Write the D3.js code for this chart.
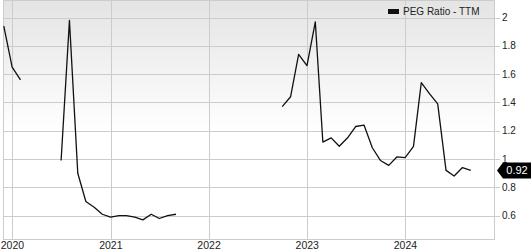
<!DOCTYPE html>
<html>
<head>
<meta charset="utf-8">
<script src="https://cdn.jsdelivr.net/npm/d3@7"></script>
<style>
  body { margin: 0; background: #fff; }
  svg { display: block; font-family: "Liberation Sans", Arial, sans-serif; }
</style>
</head>
<body>
<svg id="chart" width="531" height="250"></svg>
<script>
// month-end dates; null marks a gap in the series
const dates = [
    "2019-11-30", "2019-12-31", "2020-01-31", "2020-02-29",
    "2020-05-31", "2020-06-30", "2020-07-31", "2020-08-31", "2020-09-30", "2020-10-31",
    "2020-11-30", "2020-12-31", "2021-01-31", "2021-02-28", "2021-03-31", "2021-04-30",
    "2021-05-31", "2021-06-30", "2021-07-31", "2021-08-31", "2021-09-30",
    "2022-08-31", "2022-09-30", "2022-10-31", "2022-11-30", "2022-12-31",
    "2023-01-31", "2023-02-28", "2023-03-31", "2023-04-30", "2023-05-31", "2023-06-30",
    "2023-07-31", "2023-08-31", "2023-09-30", "2023-10-31", "2023-11-30", "2023-12-31",
    "2024-01-31", "2024-02-29", "2024-03-31", "2024-04-30", "2024-05-31", "2024-06-30",
    "2024-07-31", "2024-08-31"
];
const pegValues = [
    1.94, 1.65, 1.56, null,
    null, 0.99, 1.98, 0.90, 0.70, 0.66,
    0.61, 0.59, 0.60, 0.60, 0.59, 0.57,
    0.61, 0.58, 0.60, 0.61, null,
    null, 1.37, 1.44, 1.74, 1.66,
    1.97, 1.12, 1.15, 1.09, 1.15, 1.23,
    1.24, 1.08, 0.99, 0.955, 1.015, 1.01,
    1.09, 1.54, 1.46, 1.39, 0.92, 0.88,
    0.94, 0.92
];
const yTicks = [0.6, 0.8, 1, 1.2, 1.4, 1.6, 1.8, 2];
const yearTicks = ["2020-01-01", "2021-01-01", "2022-01-01", "2023-01-01", "2024-01-01"];
const seriesName = "PEG Ratio - TTM";
const lastValue = 0.92;

const parse = d3.timeParse("%Y-%m-%d");
const data = dates.map((d, i) => ({ date: parse(d), value: pegValues[i] }));

const PLOT = { left: 3, right: 495, top: 0, bottom: 240 };

const svg = d3.select("#chart");

const x = d3.scaleTime()
    .domain([parse("2019-11-27"), parse("2024-11-29")])
    .range([PLOT.left, PLOT.right]);

const y = d3.scaleLinear()
    .domain([0.428, 2.124])
    .range([PLOT.bottom, PLOT.top]);

const defs = svg.append("defs");
const grad = defs.append("linearGradient")
    .attr("id", "bg")
    .attr("x1", 0).attr("y1", 0).attr("x2", 0).attr("y2", 1);
grad.append("stop").attr("offset", "0%").attr("stop-color", "#e4e4e4");
grad.append("stop").attr("offset", "55%").attr("stop-color", "#ffffff");

defs.append("clipPath").attr("id", "plot-clip")
    .append("rect")
    .attr("x", PLOT.left).attr("y", PLOT.top)
    .attr("width", PLOT.right - PLOT.left)
    .attr("height", PLOT.bottom - PLOT.top);

svg.append("rect")
    .attr("x", PLOT.left).attr("y", PLOT.top)
    .attr("width", PLOT.right - PLOT.left)
    .attr("height", PLOT.bottom - PLOT.top)
    .attr("fill", "url(#bg)");

// grid
const grid = svg.append("g").attr("class", "grid")
    .attr("stroke", "#cccccc").attr("stroke-width", 1);

grid.selectAll(".h")
    .data(yTicks)
    .join("line")
    .attr("class", "h")
    .attr("x1", PLOT.left).attr("x2", PLOT.right + 5)
    .attr("y1", d => Math.round(y(d)) + 0.5)
    .attr("y2", d => Math.round(y(d)) + 0.5);

grid.selectAll(".v")
    .data(yearTicks.map(parse))
    .join("line")
    .attr("class", "v")
    .attr("x1", d => Math.round(x(d)) + 0.5)
    .attr("x2", d => Math.round(x(d)) + 0.5)
    .attr("y1", PLOT.top).attr("y2", PLOT.bottom);

svg.append("rect")
    .attr("x", PLOT.left + 0.5).attr("y", PLOT.top + 0.5)
    .attr("width", PLOT.right - PLOT.left - 1)
    .attr("height", PLOT.bottom - PLOT.top - 1)
    .attr("fill", "none")
    .attr("stroke", "#cccccc");

// line
const line = d3.line()
    .defined(d => d.value != null)
    .x(d => x(d.date))
    .y(d => y(d.value));

svg.append("path")
    .datum(data)
    .attr("clip-path", "url(#plot-clip)")
    .attr("fill", "none")
    .attr("stroke", "#111")
    .attr("stroke-width", 1.3)
    .attr("stroke-linejoin", "round")
    .attr("d", line);

// right axis labels
svg.append("g")
    .selectAll("text")
    .data(yTicks)
    .join("text")
    .attr("x", 502)
    .attr("y", d => y(d) + 3.5)
    .attr("font-size", 10)
    .attr("fill", "#222")
    .text(d => d3.format("~g")(d));

// bottom axis labels
svg.append("g")
    .selectAll("text")
    .data(yearTicks.map(parse))
    .join("text")
    .attr("x", d => x(d))
    .attr("y", 249)
    .attr("text-anchor", "middle")
    .attr("font-size", 10.5)
    .attr("fill", "#222")
    .text(d => d3.timeFormat("%Y")(d));

// legend
const legend = svg.append("g").attr("transform", "translate(388, 0)");
legend.append("rect")
    .attr("x", 0).attr("y", 9)
    .attr("width", 11).attr("height", 5)
    .attr("fill", "#111");
legend.append("text")
    .attr("x", 15).attr("y", 15)
    .attr("font-size", 10)
    .attr("fill", "#222")
    .text(seriesName);

// last value tag
const tagY = y(lastValue);
const tag = svg.append("g");
tag.append("path")
    .attr("d", `M${PLOT.right + 2},${tagY} L${PLOT.right + 8},${tagY - 8} L531,${tagY - 8} L531,${tagY + 8} L${PLOT.right + 8},${tagY + 8} Z`)
    .attr("fill", "#000");
tag.append("text")
    .attr("x", 517)
    .attr("y", tagY + 4)
    .attr("text-anchor", "middle")
    .attr("font-size", 11)
    .attr("fill", "#fff")
    .text(d3.format(".2f")(lastValue));
</script>
</body>
</html>
